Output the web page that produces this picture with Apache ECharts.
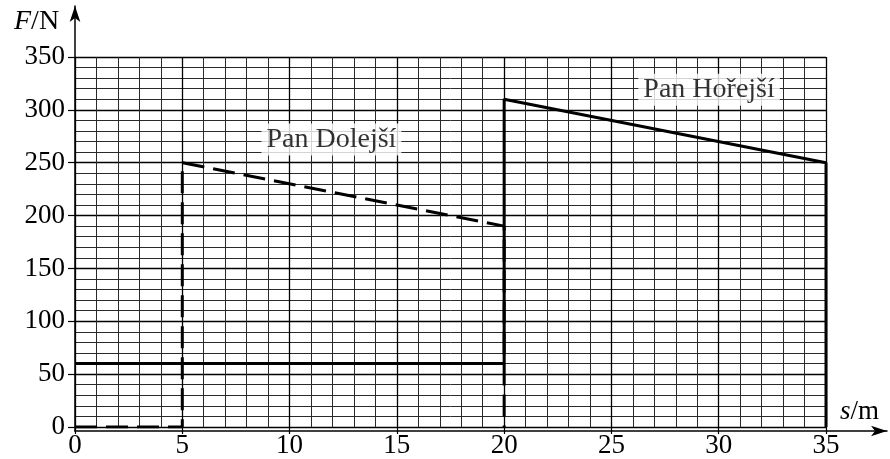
<!DOCTYPE html>
<html><head><meta charset="utf-8">
<script src="https://cdn.jsdelivr.net/npm/echarts@6/dist/echarts.min.js"></script>
<style>html,body{margin:0;padding:0;background:#fff}#c{width:890px;height:459px}</style>
</head><body><div id="c"></div>
<script>
// ---- data ----
const xTicks = [0, 5, 10, 15, 20, 25, 30, 35];
const yTicks = [0, 50, 100, 150, 200, 250, 300, 350];
const dolejsi = [[0, 0], [5, 0], [5, 250], [20, 190], [20, 0]];
const horejsi = [[0, 60], [20, 60], [20, 310], [35, 250], [35, 0]];
const labelNames = ['Pan Dolejší', 'Pan Hořejší'];
const labelCoords = [[11.95, 272], [29.55, 319]];
const xName = 's';
const xUnit = 'm';
const yName = 'F';
const yUnit = 'N';

const FONT = 'Liberation Serif';
const chart = echarts.init(document.getElementById('c'), null, {renderer: 'canvas'});

const gridAxis = (min, max, interval, ticks, margin) => ({
  gridIndex: 0, type: 'value', min: min, max: max, interval: interval,
  axisLine: {show: false},
  axisTick: {show: true, inside: false, length: 7, lineStyle: {color: '#000', width: 1.2}},
  axisLabel: {show: true, color: '#000', fontFamily: FONT, fontSize: 27, margin: margin,
    formatter: v => (ticks.indexOf(v) >= 0 ? String(v) : '')},
  splitLine: {show: true, lineStyle: {color: '#000', width: 1.3}},
  minorTick: {show: false, splitNumber: 5},
  minorSplitLine: {show: true, lineStyle: {color: '#2a2a2a', width: 1}}
});
const arrowAxis = () => ({
  gridIndex: 1, type: 'value', min: 0, max: 1,
  axisLine: {show: true, symbol: ['none', 'arrow'], symbolSize: [8, 16], symbolOffset: [0, 0],
    lineStyle: {color: '#000', width: 1.5}},
  axisTick: {show: false}, axisLabel: {show: false}, splitLine: {show: false}
});

chart.setOption({
  animation: false,
  backgroundColor: '#fff',
  grid: [
    {left: 75, top: 57, width: 751, height: 374},
    {left: 75, top: 6, width: 812, height: 425}
  ],
  xAxis: [gridAxis(xTicks[0], xTicks[xTicks.length - 1], xTicks[1] - xTicks[0], xTicks, 5), arrowAxis()],
  yAxis: [gridAxis(yTicks[0], yTicks[yTicks.length - 1], yTicks[1] - yTicks[0], yTicks, 10), arrowAxis()],
  graphic: [
    {type: 'text', left: 14, top: 8, style: {text: '{i|' + yName + '}/' + yUnit,
      fontFamily: FONT, fontSize: 28, fill: '#000',
      rich: {i: {fontStyle: 'italic', fontFamily: FONT, fontSize: 28}}}},
    {type: 'text', left: 840, top: 398, style: {text: '{i|' + xName + '}/' + xUnit,
      fontFamily: FONT, fontSize: 27, fill: '#000',
      rich: {i: {fontStyle: 'italic', fontFamily: FONT, fontSize: 27}}}}
  ],
  series: [
    {type: 'line', xAxisIndex: 0, yAxisIndex: 0, data: horejsi, showSymbol: false, symbol: 'none',
      lineStyle: {color: '#000', width: 3}, z: 5},
    {type: 'line', xAxisIndex: 0, yAxisIndex: 0, data: dolejsi, showSymbol: false, symbol: 'none',
      lineStyle: {color: '#000', width: 3, type: [22, 9]}, z: 6},
    {type: 'scatter', xAxisIndex: 0, yAxisIndex: 0, symbolSize: 1, itemStyle: {color: 'rgba(0,0,0,0)'},
      data: labelNames.map((n, i) => ({name: n, value: labelCoords[i]})),
      label: {show: true, position: 'inside', formatter: p => p.name, color: '#000',
        fontFamily: FONT, fontSize: 28, backgroundColor: '#fff', padding: [3, 5, 1, 5]}, z: 10}
  ]
});
</script>
</body></html>
